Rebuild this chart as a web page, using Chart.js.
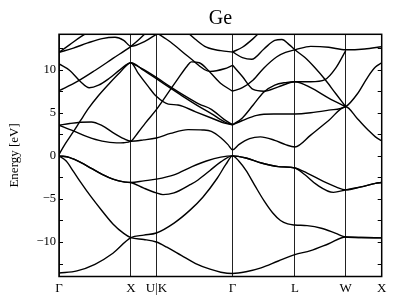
<!DOCTYPE html>
<html>
<head>
<meta charset="utf-8">
<script src="https://cdn.jsdelivr.net/npm/chart.js@4.4.1/dist/chart.umd.min.js"></script>
<style>
  html, body { margin: 0; padding: 0; background: #fff; }
</style>
</head>
<body>
<canvas id="bands" width="398" height="308"></canvas>
<script>
// high-symmetry points along the path (units of 2pi/a)
const kTicks = [0, 1, 1.3536, 2.4142, 3.2802, 3.9873, 4.4873];
const kLabels = ['Γ', 'X', 'U|K', 'Γ', 'L', 'W', 'X'];
const yTicks = [-10, -5, 0, 5, 10];
const yMinor = [-12.5, -7.5, -2.5, 2.5, 7.5, 12.5];

// valence bands [k, E]
const vb1 = [[0,-13.6],[0.25,-13.34],[0.5,-12.58],[0.75,-11.3],[1,-9.5],[1.18,-9.2],[1.3536,-8.95],[1.6,-7.8],[1.822,-6.3],[2.0,-4.8],[2.2,-2.6],[2.32,-1.0],[2.414,0],[2.5,-0.6],[2.6,-1.7],[2.72,-3.4],[2.85,-5.2],[2.97,-6.6],[3.08,-7.5],[3.18,-7.9],[3.28,-8.03],[3.45,-8.1],[3.648,-8.4],[3.85,-9.0],[3.987,-9.42],[4.2,-9.48],[4.487,-9.52]];
const vb2 = [[0,0],[0.1,-0.6],[0.2,-1.8],[0.3,-3.05],[0.45,-4.8],[0.6,-6.4],[0.75,-7.9],[0.9,-9.0],[1,-9.5],[1.18,-9.7],[1.3536,-10.0],[1.5,-10.6],[1.7,-11.55],[1.9,-12.5],[2.1,-13.15],[2.25,-13.5],[2.414,-13.65],[2.6,-13.45],[2.81,-13.0],[3.05,-12.2],[3.28,-11.47],[3.5,-11.0],[3.75,-10.2],[3.987,-9.42],[4.2,-9.48],[4.487,-9.52]];
const vb3 = [[0,0],[0.15,-0.2],[0.3,-0.75],[0.45,-1.45],[0.6,-2.15],[0.75,-2.7],[0.9,-3.02],[1,-3.1],[1.18,-2.9],[1.3536,-2.7],[1.6,-2.2],[1.85,-1.25],[2.05,-0.6],[2.25,-0.15],[2.414,0],[2.6,-0.25],[2.814,-0.83],[3.05,-1.25],[3.28,-1.41],[3.45,-2.0],[3.676,-2.96],[3.85,-3.6],[3.987,-3.95],[4.2,-3.6],[4.4,-3.2],[4.487,-3.1]];
const vb4 = [[0,0],[0.15,-0.2],[0.3,-0.75],[0.45,-1.45],[0.6,-2.15],[0.75,-2.7],[0.9,-3.02],[1,-3.1],[1.18,-3.75],[1.3536,-4.3],[1.446,-4.5],[1.6,-4.3],[1.822,-3.35],[1.933,-2.8],[2.1,-1.7],[2.25,-0.7],[2.414,0],[2.6,-0.25],[2.814,-0.83],[3.05,-1.25],[3.28,-1.41],[3.42,-2.2],[3.584,-3.35],[3.815,-4.24],[3.987,-3.95],[4.2,-3.6],[4.4,-3.2],[4.487,-3.1]];

// conduction bands [k, E]
const cb1 = [[0,0.15],[0.08,1.3],[0.2,2.8],[0.3,4.1],[0.41,5.5],[0.55,7.0],[0.7,8.4],[0.85,9.7],[1,10.8],[1.18,9.9],[1.3536,8.95],[1.55,7.85],[1.75,6.75],[1.95,5.7],[2.118,4.9],[2.3,3.95],[2.414,3.6]];
const cb2 = [[1,10.8],[1.18,10.0],[1.3536,9.1],[1.55,8.0],[1.75,6.95],[1.95,6.0],[2.118,5.4],[2.3,4.2],[2.414,3.6]];
const cb3 = [[0,3.55],[0.15,3.75],[0.3,3.9],[0.45,3.93],[0.6,3.5],[0.75,2.7],[0.9,2.0],[1,1.7],[1.18,1.85],[1.3536,2.07],[1.55,2.6],[1.794,3.04],[2.0,3.0],[2.118,2.84],[2.25,2.1],[2.35,1.3],[2.414,0.7],[2.5,1.3],[2.65,2.0],[2.8,2.2],[3.0,1.8],[3.15,1.3],[3.28,1.03],[3.5,2.4],[3.75,4.1],[3.987,5.7],[4.15,4.3],[4.298,3.0],[4.4,2.2],[4.487,1.75]];
const cb4 = [[0,3.55],[0.2,2.9],[0.4,2.2],[0.6,1.7],[0.8,1.5],[0.9,1.52],[1,1.7],[1.1,2.7],[1.2,3.8],[1.3536,5.36],[1.5,7.1],[1.65,8.9],[1.78,10.4],[1.84,10.9],[1.95,10.8],[2.1,9.7],[2.25,8.4],[2.414,7.5]];
const cb5 = [[0,7.56],[0.25,8.6],[0.5,9.9],[0.75,11.3],[1,12.7],[1.1,13.4],[1.2,14.2]];
const cb6 = [[0,10.66],[0.15,9.9],[0.3,8.6],[0.42,7.9],[0.55,8.2],[0.7,9.0],[0.85,10.0],[1,10.8],[1.1,9.6],[1.24,8.06],[1.3536,6.9],[1.52,6.0],[1.655,5.9],[1.9,5.1],[2.118,4.39],[2.3,3.8],[2.414,3.6]];
const cb7 = [[2.414,3.6],[2.55,4.1],[2.75,4.7],[3.0,4.85],[3.28,4.86],[3.5,5.0],[3.75,5.3],[3.987,5.7],[4.15,7.2],[4.298,9.2],[4.4,10.3],[4.487,10.8]];
const cb8 = [[2.414,3.6],[2.55,4.4],[2.7,5.9],[2.85,7.4],[3.0,8.2],[3.15,8.5],[3.28,8.6],[3.5,8.6],[3.7,8.85],[3.85,10.2],[3.987,12.2]];
const cb9 = [[0,12.0],[0.15,12.9],[0.3,13.8],[0.4,14.3]];
const cb10 = [[0,12.0],[0.2,12.5],[0.4,13.1],[0.6,13.6],[0.78,13.75],[0.9,13.4],[1,12.7],[1.2,13.3],[1.3536,14.1],[1.45,14.5]];
const cb11 = [[2.414,12.05],[2.55,11.4],[2.68,11.2],[2.85,12.4],[3.0,13.4],[3.1,13.5],[3.2,12.9],[3.28,12.3],[3.42,11.4],[3.55,10.3],[3.7,8.85],[3.85,7.2],[3.987,5.7]];
const cb12 = [[3.28,12.3],[3.5,12.7],[3.75,12.6],[3.987,12.3],[4.25,12.4],[4.487,12.65]];
const cb13 = [[2.414,10.5],[2.55,9.2],[2.7,7.7],[2.85,7.5],[3.05,8.0],[3.28,8.6],[3.5,7.9],[3.75,6.7],[3.987,5.7]];
const cb14 = [[2.414,7.5],[2.55,7.9],[2.7,8.8],[2.85,10.2],[3.03,11.5],[3.15,12.0],[3.28,12.3]];
const cb15 = [[1.3536,14.3],[1.55,13.2],[1.822,11.35],[2.1,9.8],[2.3,10.1],[2.414,10.5]];
const cb16 = [[1.75,14.6],[1.9,13.5],[2.05,12.6],[2.25,12.2],[2.414,12.05]];
const cb17 = [[2.414,12.05],[2.55,12.6],[2.7,13.6],[2.8,14.4]];

const bands = [vb1, vb2, vb3, vb4, cb1, cb2, cb3, cb4, cb5, cb6, cb7, cb8, cb9,
               cb10, cb11, cb12, cb13, cb14, cb15, cb16, cb17];

const serif = "'Liberation Serif', 'DejaVu Serif', serif";

// frame and inward ticks like the matplotlib original
const framePlugin = {
    id: 'frame',
    afterDatasetsDraw(chart) {
        const { ctx, chartArea: a, scales: { y } } = chart;
        ctx.save();
        ctx.strokeStyle = '#000';
        ctx.lineWidth = 1;
        yTicks.concat(yMinor).forEach(v => {
            const py = Math.round(y.getPixelForValue(v)) + 0.5;
            ctx.beginPath();
            ctx.moveTo(a.left, py); ctx.lineTo(a.left + 4, py);
            ctx.moveTo(a.right, py); ctx.lineTo(a.right - 4, py);
            ctx.stroke();
        });
        ctx.lineWidth = 1.5;
        ctx.strokeRect(a.left, a.top, a.right - a.left, a.bottom - a.top);
        ctx.restore();
    }
};

new Chart(document.getElementById('bands'), {
    type: 'line',
    data: {
        datasets: bands.map(b => ({
            data: b.map(([x, y]) => ({ x, y })),
            borderColor: '#000',
            borderWidth: 1.4,
            pointRadius: 0,
            fill: false,
            cubicInterpolationMode: 'monotone'
        }))
    },
    options: {
        responsive: false,
        animation: false,
        devicePixelRatio: 1,
        layout: { padding: { left: 0, right: 16.3, top: 0, bottom: 0 } },
        plugins: {
            legend: { display: false },
            tooltip: { enabled: false },
            title: {
                display: true,
                text: 'Ge',
                fullSize: false,
                color: '#000',
                font: { family: serif, size: 20, weight: 'normal' },
                padding: { top: 7, bottom: 3.3 }
            }
        },
        scales: {
            x: {
                type: 'linear',
                min: 0,
                max: 4.4873,
                afterBuildTicks: s => { s.ticks = kTicks.map(v => ({ value: v })); },
                afterFit: s => { s.height = 31.5; },
                ticks: {
                    autoSkip: false,
                    maxRotation: 0,
                    padding: 4,
                    color: '#000',
                    font: { family: serif, size: 13 },
                    callback: (v, i) => kLabels[i]
                },
                grid: { color: '#222', lineWidth: 1, drawTicks: false },
                border: { display: false }
            },
            y: {
                min: -14,
                max: 14.1,
                afterBuildTicks: s => { s.ticks = yTicks.map(v => ({ value: v })); },
                afterFit: s => { s.width = 59; },
                ticks: {
                    padding: 3,
                    color: '#000',
                    font: { family: serif, size: 12.5 },
                    callback: v => (v < 0 ? '\u2212' + Math.abs(v) : String(v))
                },
                grid: { display: false, drawTicks: false },
                border: { display: false },
                title: {
                    display: true,
                    text: 'Energy [eV]',
                    color: '#000',
                    font: { family: serif, size: 13 },
                    padding: { top: 7, bottom: 0 }
                }
            }
        }
    },
    plugins: [framePlugin]
});
</script>
</body>
</html>
